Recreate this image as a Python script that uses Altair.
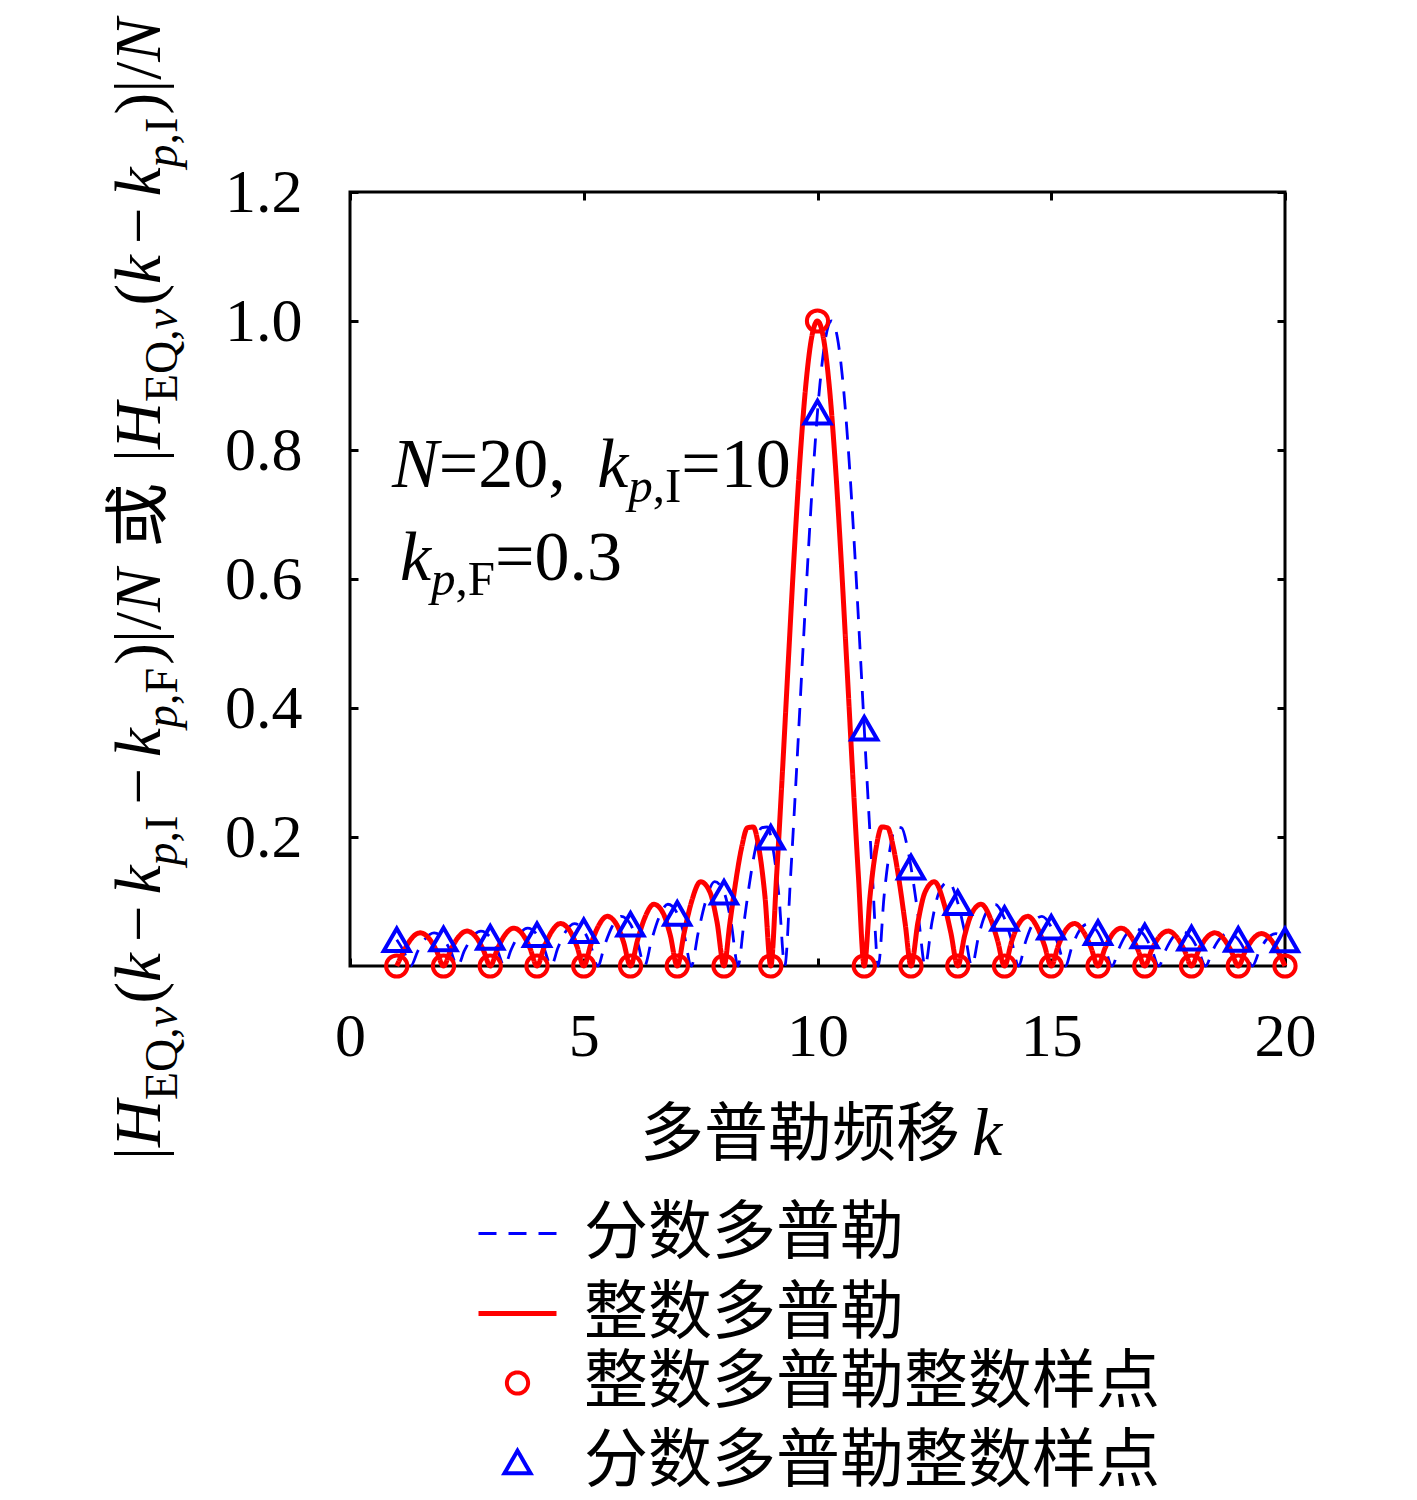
import altair as alt
import pandas as pd

# ---------------- data ----------------
K_INT = [1, 2, 3, 4, 5, 6, 7, 8, 9, 10, 11, 12, 13, 14, 15, 16, 17, 18, 19, 20]
RED_SAMPLES = [0, 0, 0, 0, 0, 0, 0, 0, 0, 1.0, 0, 0, 0, 0, 0, 0, 0, 0, 0, 0]
BLUE_SAMPLES = [0.0407, 0.0419, 0.0444, 0.0484, 0.0547, 0.0647, 0.0816, 0.1144, 0.1995, 0.8587,
                0.3685, 0.1533, 0.0983, 0.0737, 0.0601, 0.0518, 0.0466, 0.0432, 0.0413, 0.0405]

RED_X = [1, 1.15, 1.3, 1.5, 1.7, 1.85, 2, 2.15, 2.3, 2.5, 2.7, 2.85, 3, 3.15, 3.3, 3.5, 3.7, 3.85,
         4, 4.15, 4.3, 4.5, 4.7, 4.85, 5, 5.15, 5.3, 5.5, 5.7, 5.85, 6, 6.15, 6.3, 6.5, 6.7, 6.85,
         7, 7.15, 7.3, 7.5, 7.7, 7.85, 8, 8.125, 8.25, 8.375, 8.5, 8.625, 8.75, 8.875, 9,
         9.125, 9.25, 9.375, 9.5, 9.625, 9.75, 9.875, 10, 10.125, 10.25, 10.375, 10.5, 10.625,
         10.75, 10.875, 11, 11.125, 11.25, 11.375, 11.5, 11.625, 11.75, 11.875, 12,
         12.15, 12.3, 12.5, 12.7, 12.85, 13, 13.15, 13.3, 13.5, 13.7, 13.85, 14, 14.15, 14.3,
         14.5, 14.7, 14.85, 15, 15.15, 15.3, 15.5, 15.7, 15.85, 16, 16.15, 16.3, 16.5, 16.7,
         16.85, 17, 17.15, 17.3, 17.5, 17.7, 17.85, 18, 18.15, 18.3, 18.5, 18.7, 18.85, 19,
         19.15, 19.3, 19.5, 19.7, 19.85, 20]
RED_Y = [0,
         0.0231, 0.0413, 0.0514, 0.0419, 0.0237, 0,
         0.0241, 0.0432, 0.0541, 0.0444, 0.0252, 0,
         0.0258, 0.0466, 0.0586, 0.0484, 0.0276, 0,
         0.0286, 0.0518, 0.0658, 0.0547, 0.0314, 0,
         0.0329, 0.0601, 0.0770, 0.0647, 0.0374, 0,
         0.0399, 0.0737, 0.0957, 0.0816, 0.0478, 0,
         0.0524, 0.0983, 0.1307, 0.1144, 0.0685, 0,
         0.0659, 0.1303, 0.1830, 0.2142, 0.2155, 0.1812, 0.1088, 0,
         0.1397, 0.3008, 0.4713, 0.6373, 0.7847, 0.9005, 0.9745, 1.0,
         0.9745, 0.9005, 0.7847, 0.6373, 0.4713, 0.3008, 0.1397, 0,
         0.1088, 0.1812, 0.2155, 0.2142, 0.1830, 0.1303, 0.0659, 0,
         0.0685, 0.1144, 0.1307, 0.0983, 0.0524, 0,
         0.0478, 0.0816, 0.0957, 0.0737, 0.0399, 0,
         0.0374, 0.0647, 0.0770, 0.0601, 0.0329, 0,
         0.0314, 0.0547, 0.0658, 0.0518, 0.0286, 0,
         0.0276, 0.0484, 0.0586, 0.0466, 0.0258, 0,
         0.0252, 0.0444, 0.0541, 0.0432, 0.0241, 0,
         0.0237, 0.0419, 0.0514, 0.0413, 0.0231, 0,
         0.0229, 0.0407, 0.0502, 0.0405, 0.0227, 0]

BLUE_X = [1.0, 1.15, 1.3, 1.45, 1.6, 1.8, 2.0, 2.15, 2.3, 2.45, 2.6, 2.8, 3.0, 3.15, 3.3,
          3.45, 3.6, 3.8, 4.0, 4.15, 4.3, 4.45, 4.6, 4.8, 5.0, 5.15, 5.3, 5.45, 5.6, 5.8, 6.0,
          6.15, 6.3, 6.45, 6.6, 6.8, 7.0, 7.15, 7.3, 7.45, 7.6, 7.8, 8.0, 8.15, 8.3,
          8.425, 8.55, 8.675, 8.8, 8.925, 9.05, 9.175, 9.3,
          9.425, 9.55, 9.675, 9.8, 9.925, 10.05, 10.175, 10.3, 10.425, 10.55, 10.675, 10.8,
          10.925, 11.05, 11.175, 11.3, 11.425, 11.55, 11.675, 11.8, 11.925, 12.05, 12.175, 12.3,
          12.45, 12.6, 12.8, 13.0, 13.15, 13.3, 13.45, 13.6, 13.8, 14.0, 14.15, 14.3,
          14.45, 14.6, 14.8, 15.0, 15.15, 15.3, 15.45, 15.6, 15.8, 16.0, 16.15, 16.3,
          16.45, 16.6, 16.8, 17.0, 17.15, 17.3, 17.45, 17.6, 17.8, 18.0, 18.15, 18.3,
          18.45, 18.6, 18.8, 19.0, 19.15, 19.3, 19.45, 19.6, 19.8, 20.0]
BLUE_Y = [0.0407, 0.0229, 0,
          0.0231, 0.0413, 0.0514, 0.0419, 0.0237, 0,
          0.0241, 0.0432, 0.0541, 0.0444, 0.0252, 0,
          0.0258, 0.0466, 0.0586, 0.0484, 0.0276, 0,
          0.0286, 0.0518, 0.0658, 0.0547, 0.0314, 0,
          0.0329, 0.0601, 0.0770, 0.0647, 0.0374, 0,
          0.0399, 0.0737, 0.0957, 0.0816, 0.0478, 0,
          0.0524, 0.0983, 0.1307, 0.1144, 0.0685, 0,
          0.0659, 0.1303, 0.1830, 0.2142, 0.2155, 0.1812, 0.1088, 0,
          0.1397, 0.3008, 0.4713, 0.6373, 0.7847, 0.9005, 0.9745, 1.0,
          0.9745, 0.9005, 0.7847, 0.6373, 0.4713, 0.3008, 0.1397, 0,
          0.1088, 0.1812, 0.2155, 0.2142, 0.1830, 0.1303, 0.0659, 0,
          0.0685, 0.1144, 0.1307, 0.0983, 0.0524, 0,
          0.0478, 0.0816, 0.0957, 0.0737, 0.0399, 0,
          0.0374, 0.0647, 0.0770, 0.0601, 0.0329, 0,
          0.0314, 0.0547, 0.0658, 0.0518, 0.0286, 0,
          0.0276, 0.0484, 0.0586, 0.0466, 0.0258, 0,
          0.0252, 0.0444, 0.0541, 0.0432, 0.0241, 0,
          0.0237, 0.0419, 0.0514, 0.0413, 0.0231, 0,
          0.0229, 0.0407, 0.0502, 0.0405]

SERIES = ["分数多普勒", "整数多普勒", "整数多普勒整数样点", "分数多普勒整数样点"]
COLORS = ["#0000ff", "#ff0000", "#ff0000", "#0000ff"]
X_TICKS = [0, 5, 10, 15, 20]
Y_TICKS = [0.2, 0.4, 0.6, 0.8, 1.0, 1.2]

# ---------------- styling ----------------
W, H = 935, 774
SERIF = "Liberation Serif"
CJK = "Noto Sans CJK SC"

lines_df = pd.concat([
    pd.DataFrame({"k": BLUE_X, "v": BLUE_Y, "series": SERIES[0]}),
    pd.DataFrame({"k": RED_X, "v": RED_Y, "series": SERIES[1]}),
])
pts_df = pd.concat([
    pd.DataFrame({"k": K_INT, "v": RED_SAMPLES, "series": SERIES[2]}),
    pd.DataFrame({"k": K_INT, "v": BLUE_SAMPLES, "series": SERIES[3]}),
])

LEG = alt.Legend(orient="none", legendX=126, legendY=1001, title=None, direction="vertical",
                 labelFont=CJK, labelFontSize=64, labelColor="black", labelOffset=25,
                 rowPadding=5, padding=0, labelLimit=0, gridAlign="all")

x_sc = alt.Scale(domain=[0, 20], nice=False, zero=False)
y_sc = alt.Scale(domain=[0, 1.2], nice=False)

AX = dict(grid=False, domain=False, ticks=True, tickColor="black", tickWidth=3, tickSize=8,
          offset=-8, labelFont=SERIF, labelFontSize=62, labelColor="black", title=None)

color = alt.Color("series:N", scale=alt.Scale(domain=SERIES, range=COLORS), legend=LEG)
dash = alt.StrokeDash("series:N", scale=alt.Scale(domain=SERIES, range=[[18, 12], [1, 0], [1, 0], [1, 0]]), legend=LEG)
swidth = alt.StrokeWidth("series:N", scale=alt.Scale(type="ordinal", domain=SERIES, range=[2.8, 5, 4, 4]), legend=LEG)
shape = alt.Shape("series:N", scale=alt.Scale(domain=SERIES, range=["stroke", "stroke", "circle", "triangle-up"]), legend=LEG)
size = alt.Size("series:N", scale=alt.Scale(type="ordinal", domain=SERIES, range=[6084, 6084, 450, 680]), legend=LEG)

lines = alt.Chart(lines_df).mark_line(strokeCap="butt", interpolate="monotone").encode(
    x=alt.X("k:Q", scale=x_sc, axis=alt.Axis(orient="bottom", values=X_TICKS, format="d",
                                              labelPadding=40, labelFlush=False, labelOverlap=False, **AX)),
    y=alt.Y("v:Q", scale=y_sc, axis=alt.Axis(orient="left", values=Y_TICKS, format=".1f",
                                              labelPadding=48, labelFlush=False, labelOverlap=False, **AX)),
    color=color, strokeDash=dash, strokeWidth=swidth,
)

points = alt.Chart(pts_df).mark_point(filled=False, opacity=1).encode(
    x=alt.X("k:Q", scale=x_sc, axis=alt.Axis(orient="top", values=X_TICKS, labels=False, **AX)),
    y=alt.Y("v:Q", scale=y_sc, axis=alt.Axis(orient="right", values=Y_TICKS, labels=False, **AX)),
    color=color, shape=shape, size=size, strokeWidth=swidth,
)


def text_layer(s, x, y, fs, font, style="normal", angle=0):
    return alt.Chart(pd.DataFrame({"t": [s]})).mark_text(
        align="left", baseline="alphabetic", angle=angle, font=font, fontSize=fs,
        fontStyle=style, color="black").encode(text="t:N", x=alt.value(x), y=alt.value(y))


# Times-metric advance widths (em) used to lay out math-like text pieces
W_R = {"|": 0.2, "(": 0.333, ")": 0.333, "/": 0.278, ",": 0.25, "E": 0.611, "Q": 0.722,
       "I": 0.333, "F": 0.556, "−": 0.564, "=": 0.564, ".": 0.25, " ": 0.25,
       "0": 0.5, "1": 0.5, "2": 0.5, "3": 0.5}
W_I = {"H": 0.722, "k": 0.444, "N": 0.667, "p": 0.5, "v": 0.444}


def seg_w(s, kind, fs):
    if kind == "c":
        return fs * len(s)
    table = W_I if kind == "i" else W_R
    return fs * sum(table[c] for c in s)


def build(segs, x0, y0, main, sub, sub_shift, vertical):
    layers = []
    pos = 0.0
    for s, kind, lvl, pre in segs:
        fs = sub if lvl else main
        pos += pre * main
        font = CJK if kind == "c" else SERIF
        style = "italic" if kind == "i" else "normal"
        if vertical:
            layers.append(text_layer(s, x0 + (sub_shift if lvl else 0), y0 - pos, fs, font, style, 270))
        else:
            layers.append(text_layer(s, x0 + pos, y0 + (sub_shift if lvl else 0), fs, font, style))
        pos += seg_w(s, kind, fs)
        if kind == "m" or kind == "c":
            pos += pre * main
    return layers


MI = 0.17
Y_SEGS = [("|", "r", 0, 0), ("H", "i", 0, 0), ("EQ,", "r", 1, 0), ("v", "i", 1, 0),
          ("(", "r", 0, 0.05), ("k", "i", 0, 0), ("−", "m", 0, MI), ("k", "i", 0, 0),
          ("p", "i", 1, 0), (",I", "r", 1, 0), ("−", "m", 0, MI), ("k", "i", 0, 0),
          ("p", "i", 1, 0), (",F", "r", 1, 0), (")|/", "r", 0, 0.05), ("N", "i", 0, 0),
          ("或", "c", 0, 0.32), ("|", "r", 0, 0), ("H", "i", 0, 0), ("EQ,", "r", 1, 0),
          ("v", "i", 1, 0), ("(", "r", 0, 0.05), ("k", "i", 0, 0), ("−", "m", 0, MI),
          ("k", "i", 0, 0), ("p", "i", 1, 0), (",I", "r", 1, 0), (")|/", "r", 0, 0.05),
          ("N", "i", 0, 0)]

A1 = [("N", "i", 0, 0), ("=", "r", 0, 0), ("20,", "r", 0, 0), ("k", "i", 0, 0.45),
      ("p", "i", 1, 0), (",I", "r", 1, 0), ("=", "r", 0, 0), ("10", "r", 0, 0)]
A2 = [("k", "i", 0, 0), ("p", "i", 1, 0), (",F", "r", 1, 0), ("=", "r", 0, 0), ("0.3", "r", 0, 0)]

texts = []
texts += build(Y_SEGS, -190, 968, 65, 46, 17, True)
texts += build(A1, 42, 295, 70, 49, 15, False)
texts += build(A2, 50, 388, 70, 49, 15, False)
texts.append(text_layer("多普勒频移", 290, 963, 64, CJK))
texts.append(text_layer("k", 622, 963, 68, SERIF, "italic"))

chart = alt.layer(lines, points, *texts).properties(
    width=W, height=H,
    background="white",
    autosize=alt.AutoSizeParams(type="none"),
    padding={"left": 342, "top": 184, "right": 100, "bottom": 530},
).resolve_axis(x="independent", y="independent").configure_view(
    stroke="black", strokeWidth=3
)

chart.save("out.html", embed_options={"renderer": "svg", "actions": False})
